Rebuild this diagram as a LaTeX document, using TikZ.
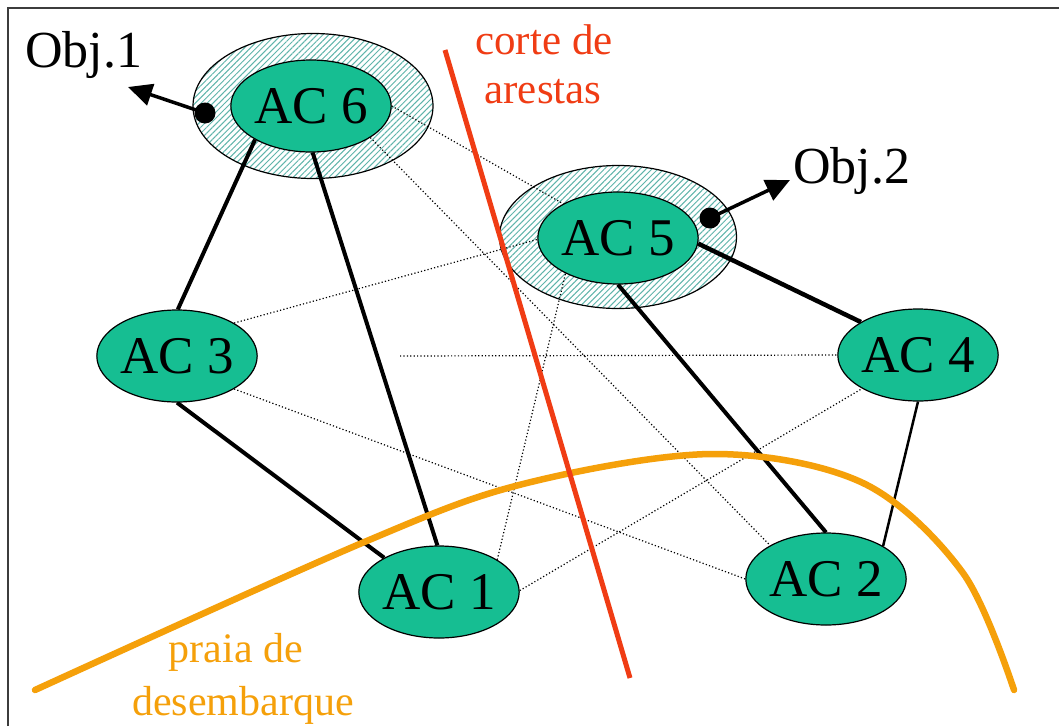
\documentclass[tikz,border=0pt]{standalone}
\usepackage{fontspec}
\setmainfont{Liberation Serif}
\usetikzlibrary{shapes.geometric,arrows.meta,patterns.meta}
\definecolor{nodegreen}{RGB}{22,190,146}
\definecolor{hatchcol}{RGB}{95,180,170}
\definecolor{cutred}{RGB}{240,60,20}
\definecolor{beach}{RGB}{245,160,10}
\definecolor{framecol}{RGB}{60,60,60}
\pgfdeclarelayer{bg}
\pgfdeclarelayer{mid}
\pgfsetlayers{bg,mid,main}
\begin{document}
\begin{tikzpicture}[x=1pt,y=-1pt,
  acnode/.style={ellipse,draw=black,line width=1.2pt,fill=nodegreen,minimum width=156pt,minimum height=92pt,inner sep=0pt,font=\fontsize{53}{53}\selectfont},
  objzone/.style={ellipse,draw=black,line width=1.2pt,minimum width=240pt,minimum height=145pt,preaction={fill=white},pattern={Lines[angle=45,distance=4.2pt,line width=1pt]},pattern color=hatchcol},
  solidedge/.style={line width=4pt},
  thinedge/.style={line width=2.5pt},
  weakedge/.style={line width=1.2pt,dash pattern=on 1.2pt off 2.2pt},
  objarrow/.style={line width=3.5pt,-{Triangle[length=24pt,width=22pt]}},
  objdot/.style={fill=black},
  objlabel/.style={anchor=base west,inner sep=0pt,font=\fontsize{52}{52}\selectfont},
  cutlabel/.style={anchor=base,inner sep=0pt,text=cutred,font=\fontsize{43}{43}\selectfont},
  beachlabel/.style={anchor=base,inner sep=0pt,text=beach,font=\fontsize{42}{42}\selectfont}
]
\useasboundingbox (0,0) rectangle (1059,726);
\begin{pgfonlayer}{bg}
\fill[white] (0,0) rectangle (1059,726);
\end{pgfonlayer}
\draw[framecol,line width=2pt] (8,726) -- (8,7.5) -- (1059,7.5);

% object zones
\begin{pgfonlayer}{bg}
\node[objzone] (O6) at (313,106) {};
\node[objzone,minimum width=237pt,minimum height=143pt] (O5) at (618,237) {};
\end{pgfonlayer}

% nodes
\node[acnode] (AC6) at (311,106) {AC 6};
\node[acnode] (AC5) at (618,238) {AC 5};
\node[acnode] (AC3) at (177,356) {AC 3};
\node[acnode] (AC4) at (918,355) {AC 4};
\node[acnode] (AC1) at (439,592) {AC 1};
\node[acnode] (AC2) at (826,579) {AC 2};
\coordinate (H) at (400,356);

\begin{pgfonlayer}{mid}
% dotted edges
\draw[weakedge] (AC6.0) -- (AC5.148);
\draw[weakedge] (AC6.332) -- (AC2.149);
\draw[weakedge] (AC3.30) -- (AC5.181);
\draw[weakedge] (AC3.330) -- (AC2.180);
\draw[weakedge] (AC1.29) -- (AC5.214);
\draw[weakedge] (AC1.1) -- (AC4.211);
\draw[weakedge] (H) -- (AC4.180);
% solid edges
\draw[solidedge] (AC6.211) -- (AC3.89);
\draw[solidedge] (AC6.272) -- (AC1.92);
\draw[solidedge] (AC3.270) -- (AC1.148);
\draw[solidedge,line width=4.5pt] (AC5.356) -- (AC4.150);
\draw[solidedge] (AC5.270) -- (AC2.90);
\draw[thinedge] (AC4.270) -- (AC2.30);
\end{pgfonlayer}

% objectives
\node[objlabel] (Obj1) at (25,67) {Obj.1};
\node[objlabel] (Obj2) at (793,183) {Obj.2};
\coordinate (D1) at (205,113);
\coordinate (T1) at (128,87);
\coordinate (D2) at (710,218);
\coordinate (T2) at (790,180);
\draw[objarrow] (D1) -- (T1);
\draw[objarrow] (D2) -- (T2);
\fill[objdot] (D1) circle (10.5pt);
\fill[objdot] (D2) circle (10.5pt);

% landing beach curve
\draw[beach,line width=6.5pt,line cap=round] plot[smooth,tension=0.55] coordinates {(35,690) (362,543) (523,484) (713,454) (863,483) (963,573) (1014,690)};
% edge cut line
\draw[cutred,line width=5pt] (445,50) -- (630,678);

% labels
\node[cutlabel] (cut1) at (544,54) {corte de};
\node[cutlabel] (cut2) at (543,103) {arestas};
\node[beachlabel] (beach1) at (236,662) {praia de};
\node[beachlabel] (beach2) at (243,715) {desembarque};
\end{tikzpicture}
\end{document}
